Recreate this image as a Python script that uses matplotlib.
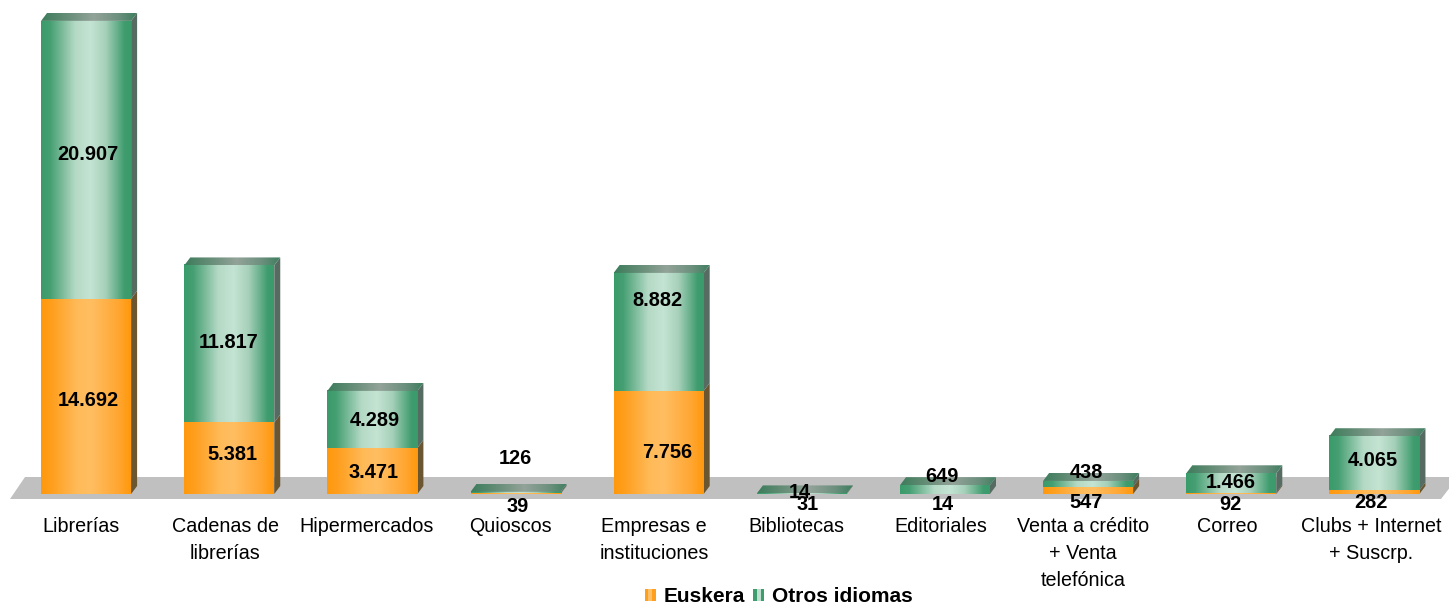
import numpy as np
import matplotlib
matplotlib.use("Agg")
import matplotlib.pyplot as plt
from matplotlib.colors import LinearSegmentedColormap
from matplotlib.patches import Polygon, Rectangle, Patch
from matplotlib.legend_handler import HandlerBase

categories = ["Librerías", "Cadenas de\nlibrerías", "Hipermercados", "Quioscos",
              "Empresas e\ninstituciones", "Bibliotecas", "Editoriales",
              "Venta a crédito\n+ Venta\ntelefónica", "Correo",
              "Clubs + Internet\n+ Suscrp."]
euskera = [14692, 5381, 3471, 39, 7756, 31, 14, 547, 92, 282]
otros = [20907, 11817, 4289, 126, 8882, 14, 649, 438, 1466, 4065]
euskera_labels = ["14.692", "5.381", "3.471", "39", "7.756", "31", "14", "547", "92", "282"]
otros_labels = ["20.907", "11.817", "4.289", "126", "8.882", "14", "649", "438", "1.466", "4.065"]

# label placement in pixels of the picture (x centre, y centre)
eus_pos = [(88, 401), (232, 455), (374, 473), (518, 506), (667, 453),
           (808, 505), (943, 504), (1086, 502), (1230, 504), (1371, 502)]
otr_pos = [(88, 155), (229, 342), (375, 420), (515, 459), (657, 300),
           (800, 492), (942, 477), (1086, 472), (1231, 483), (1373, 461)]
cat_x = [81, 225, 367, 510, 654, 796, 941, 1083, 1227, 1371]

W, H = 1449, 607
X0, PITCH = 86.1, 143.15         # px of category 0, px between categories
Y0, SCALE = 494.0, 0.01329       # px of value 0, px per unit
BAR_PX, DX_PX, DY_PX = 90.0, 6.0, 8.0

fig = plt.figure(figsize=(W / 100, H / 100), dpi=100)
ax = fig.add_axes([0, 0, 1, 1])
xlim = ((0 - X0) / PITCH, (W - X0) / PITCH)
ylim = ((Y0 - H) / SCALE, Y0 / SCALE)


def px(x, y):
    return (x - X0) / PITCH, (Y0 - y) / SCALE


plt.rcParams["font.family"] = ["Liberation Sans", "DejaVu Sans"]
orange_c = LinearSegmentedColormap.from_list(
    "o", [(0, "#FF980C"), (0.12, "#FF9F1E"), (0.4, "#FFBA58"), (0.55, "#FFBE62"),
          (0.85, "#FFA734"), (1, "#FF980C")])
green_c = LinearSegmentedColormap.from_list(
    "g", [(0, "#3A9B6A"), (0.1, "#459F72"), (0.38, "#B4D9C5"), (0.55, "#C5E4D3"),
          (0.72, "#A6D0BA"), (0.93, "#3F9C6E"), (1, "#3A9B6A")])
top_c = LinearSegmentedColormap.from_list(
    "t", [(0, "#3C7C5B"), (0.3, "#6A8F7A"), (0.55, "#93A399"), (0.8, "#6E917F"), (1, "#3F7F60")])
ramp = np.linspace(0, 1, 256).reshape(1, -1)

bw = BAR_PX / PITCH
dx = DX_PX / PITCH
dy = DY_PX / SCALE

floor = [px(10, 499), px(1441, 499), px(1458, 477), px(25, 477)]
ax.add_patch(Polygon(floor, closed=True, fc="#C0C0C0", ec="none", zorder=1))


def segment(i, y0, y1, cmap, side):
    left = i - bw / 2
    right = left + bw
    z = 2 + i * 0.01
    ax.imshow(ramp, extent=(left, right, y0, y1), aspect="auto", cmap=cmap,
              interpolation="bilinear", zorder=z + 0.002)
    ax.add_patch(Polygon([(right, y0), (right + dx, y0 + dy), (right + dx, y1 + dy), (right, y1)],
                         closed=True, fc=side, ec="none", zorder=z + 0.001))


for i in range(len(categories)):
    segment(i, 0, euskera[i], orange_c, "#6B5632")
    segment(i, euskera[i], euskera[i] + otros[i], green_c, "#566B61")
    top = euskera[i] + otros[i]
    left, right = i - bw / 2, i + bw / 2
    poly = Polygon([(left, top), (right, top), (right + dx, top + dy), (left + dx, top + dy)],
                   closed=True, transform=ax.transData, fc="none", ec="none")
    ax.add_patch(poly)
    im = ax.imshow(ramp, extent=(left, right + dx, top, top + dy), aspect="auto", cmap=top_c,
                   interpolation="bilinear", zorder=2.5 + i * 0.01)
    im.set_clip_path(poly)

for pos, labels in ((eus_pos, euskera_labels), (otr_pos, otros_labels)):
    for (x, y), s in zip(pos, labels):
        ax.text(*px(x, y), s, ha="center", va="center", fontsize=14.4, fontweight="bold",
                color="#000000", zorder=5)

for x, s in zip(cat_x, categories):
    ax.text(*px(x, 517.5), s, ha="center", va="top", fontsize=14.2, color="#000000",
            linespacing=1.52, zorder=5)


class Stripes(HandlerBase):
    def create_artists(self, legend, orig, xd, yd, w, h, fs, trans):
        edge, mid = orig.get_facecolor(), orig.get_edgecolor()
        out = []
        for k, c in enumerate((edge, mid, edge)):
            out.append(Rectangle((-xd + k * w / 3, -yd), w / 3, h, fc=c, ec="none", transform=trans))
        return out


handles = [Patch(fc="#FF9F1E", ec="#FFC06A", label="Euskera"),
           Patch(fc="#3F9C6E", ec="#BFE0CE", label="Otros idiomas")]
ax.legend(handles=handles, handler_map={Patch: Stripes()}, loc="center",
          bbox_to_anchor=(778.5 / W, 1 - 597 / H), ncol=2, frameon=False,
          prop={"family": "Liberation Sans", "weight": "bold", "size": 15},
          handlelength=0.55, handleheight=0.55, handletextpad=0.35, columnspacing=0.4,
          borderpad=0, borderaxespad=0)

ax.set_xlim(xlim)
ax.set_ylim(ylim)
ax.axis("off")
fig.savefig("out.png", dpi=100, facecolor="white")
